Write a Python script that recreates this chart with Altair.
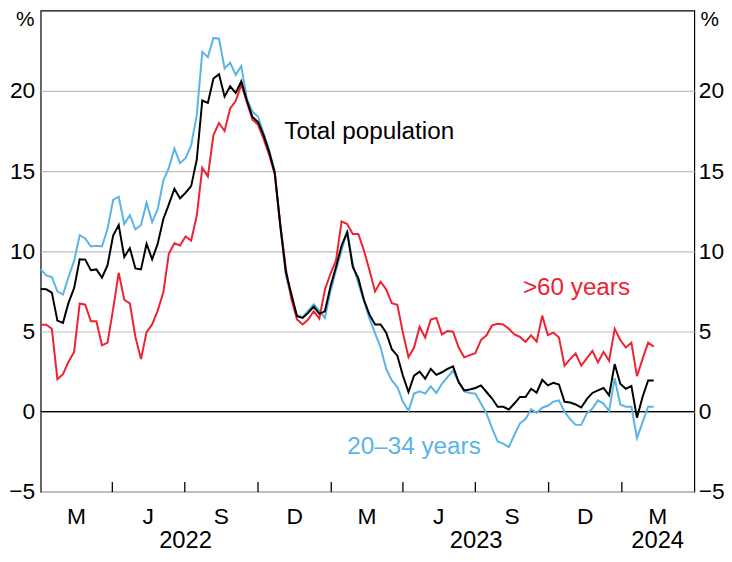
import altair as alt
import pandas as pd

# Weekly observations, first week starting 1 Jan 2022
start_date = "2022-01-01"

total = [7.65, 7.63, 7.43, 5.68, 5.54, 6.8, 7.7, 9.5, 9.48, 8.82,
         8.87, 8.35, 9.13, 10.98, 11.64, 9.64, 10.2, 8.93, 8.87, 10.47,
         9.5, 10.47, 12.0, 12.93, 13.9, 13.3, 13.65, 14.06, 15.7, 19.4,
         19.25, 20.77, 21.04, 19.64, 20.28, 19.87, 20.6, 19.4, 18.37, 18.06,
         17.24, 16.2, 14.9, 11.6, 8.7, 7.3, 5.95, 5.85, 6.16, 6.56,
         6.1, 6.26, 7.8, 9.03, 10.36, 11.18, 9.03, 8.31, 6.98, 6.05,
         5.44, 5.44, 4.93, 3.9, 3.49, 2.25, 1.23, 2.25, 2.5, 2.05,
         2.67, 2.3, 2.46, 2.67, 2.83, 1.85, 1.33, 1.39, 1.48, 1.64,
         1.23, 0.82, 0.31, 0.31, 0.14, 0.51, 0.92, 0.92, 1.43, 1.19,
         1.99, 1.64, 1.8, 1.7, 0.62, 0.57, 0.45, 0.26, 0.78, 1.17,
         1.33, 1.48, 1.02, 2.97, 1.74, 1.43, 1.6, -0.37, 0.92, 1.95,
         1.95]

over60 = [5.42, 5.42, 5.17, 2.03, 2.34, 3.12, 3.73, 6.75, 6.67, 5.64,
          5.64, 4.14, 4.31, 6.4, 8.66, 6.98, 6.75, 4.66, 3.28, 4.96,
          5.44, 6.3, 7.43, 9.85, 10.5, 10.36, 10.92, 10.67, 12.2, 15.2,
          14.67, 17.24, 18.0, 17.5, 18.9, 19.37, 20.4, 19.3, 18.2, 17.9,
          17.0, 16.0, 14.8, 11.7, 8.9, 7.0, 5.75, 5.44, 5.75, 6.26,
          5.8, 7.6, 8.6, 9.44, 11.86, 11.7, 11.08, 11.08, 10.06, 8.82,
          7.5, 8.1, 7.63, 6.77, 6.67, 4.93, 3.39, 4.0, 5.3, 4.62,
          5.74, 5.85, 4.82, 5.03, 4.99, 4.0, 3.39, 3.53, 3.65, 4.47,
          4.76, 5.38, 5.48, 5.44, 5.17, 4.82, 4.66, 4.35, 4.76, 4.37,
          5.99, 4.78, 4.93, 4.62, 2.87, 3.28, 3.63, 2.87, 3.32, 3.79,
          3.08, 3.73, 3.18, 5.17, 4.47, 4.0, 4.31, 2.22, 3.28, 4.31,
          4.06]

young = [8.87, 8.5, 8.4, 7.5, 7.3, 8.4, 9.4, 11.0, 10.8, 10.3,
         10.35, 10.3, 11.4, 13.2, 13.4, 11.7, 12.25, 11.37, 11.64, 13.03,
         11.82, 12.62, 14.4, 15.2, 16.4, 15.5, 15.8, 16.6, 18.47, 22.43,
         22.1, 23.3, 23.25, 21.4, 21.75, 21.0, 21.55, 19.5, 18.7, 18.4,
         17.35, 16.3, 15.0, 11.5, 8.5, 7.1, 6.0, 5.9, 6.3, 6.7,
         6.3, 5.85, 7.5, 8.82, 10.06, 11.3, 9.2, 8.0, 6.9, 5.8,
         4.9, 4.0, 2.67, 1.95, 1.54, 0.62, 0.06, 1.13, 1.27, 1.13,
         1.58, 1.17, 1.74, 2.15, 2.56, 1.85, 1.27, 1.17, 1.13, 0.51,
         -0.1, -1.03, -1.85, -1.99, -2.2, -1.44, -0.72, -0.46, 0.14, -0.06,
         0.25, 0.37, 0.62, 0.71, 0.0, -0.46, -0.82, -0.82, -0.1, 0.2,
         0.71, 0.51, 0.04, 2.09, 0.45, 0.31, 0.31, -1.64, -0.66, 0.31,
         0.31]

series_names = ["20–34 years", ">60 years", "Total population"]
series_colors = ["#5AB4E5", "#EE2233", "#000000"]

# Quarter boundaries (tick marks), mid-quarter month labels, years
quarter_ticks = ["2022-04-01", "2022-07-01", "2022-10-01", "2023-01-01",
                 "2023-04-01", "2023-07-01", "2023-10-01", "2024-01-01"]
month_pos = ["2022-02-15", "2022-05-16", "2022-08-16", "2022-11-16",
             "2023-02-15", "2023-05-16", "2023-08-16", "2023-11-16",
             "2024-02-15"]
month_text = ["M", "J", "S", "D", "M", "J", "S", "D", "M"]
year_pos = ["2022-07-02", "2023-07-02", "2024-02-15"]
year_text = ["2022", "2023", "2024"]

# Series label annotations
label_dates = ["2023-04-15", "2023-11-05", "2022-11-03"]
label_values = [-2.2, 7.7, 17.45]

FONT = "Liberation Sans"
W, H = 660, 486

dates = pd.date_range(start_date, periods=len(total), freq="7D")
df = pd.DataFrame({"date": dates,
                   "20–34 years": young,
                   ">60 years": over60,
                   "Total population": total})
long = df.melt("date", var_name="series", value_name="value")
long["order"] = long["series"].map({n: i for i, n in enumerate(series_names)})

xscale = alt.Scale(domain=[alt.DateTime(year=2022, month=1, date=1),
                           alt.DateTime(year=2024, month=4, date=1)])
yscale = alt.Scale(domain=[-5, 25], nice=False, zero=False)
cscale = alt.Scale(domain=series_names, range=series_colors)

lines = alt.Chart(long).mark_line(strokeWidth=2).encode(
    x=alt.X("date:T", scale=xscale, axis=None),
    y=alt.Y("value:Q", scale=yscale,
            axis=alt.Axis(values=[-5, 0, 5, 10, 15, 20], title="%",
                          titleAngle=0, titleX=-16, titleY=9,
                          titleAlign="center", titleBaseline="middle",
                          titleFontWeight="normal", titleFontSize=21,
                          domain=False, ticks=False, tickSize=0,
                          labelPadding=6, grid=True)),
    color=alt.Color("series:N", scale=cscale, legend=None),
    order=alt.Order("order:Q"),
    detail="series:N",
)

zero = alt.Chart(pd.DataFrame({"y": [0]})).mark_rule(
    color="black", strokeWidth=1.3).encode(
    y=alt.Y("y:Q", scale=yscale,
            axis=alt.Axis(orient="right", values=[-5, 0, 5, 10, 15, 20],
                          title="%", titleAngle=0, titleX=15, titleY=9,
                          titleAlign="center", titleBaseline="middle",
                          titleFontWeight="normal", titleFontSize=21,
                          domain=False, ticks=False, tickSize=0,
                          labelPadding=4, grid=False)),
)

ticks = alt.Chart(pd.DataFrame({"d": pd.to_datetime(quarter_ticks)})).mark_rule(
    color="black", strokeWidth=1.3).encode(
    x=alt.X("d:T", scale=xscale, axis=None),
    y=alt.value(H), y2=alt.value(H - 10),
)

months = alt.Chart(pd.DataFrame({"d": pd.to_datetime(month_pos), "t": month_text})).mark_text(
    font=FONT, fontSize=23, baseline="middle", align="center", color="black").encode(
    x=alt.X("d:T", scale=xscale, axis=None),
    y=alt.value(H + 25),
    text="t:N",
)

years = alt.Chart(pd.DataFrame({"d": pd.to_datetime(year_pos), "t": year_text})).mark_text(
    font=FONT, fontSize=24, baseline="middle", align="center", color="black").encode(
    x=alt.X("d:T", scale=xscale, axis=None),
    y=alt.value(H + 50),
    text="t:N",
)

lab_df = pd.DataFrame({"d": pd.to_datetime(label_dates), "v": label_values,
                       "series": series_names,
                       "align": ["center", "center", "left"]})
labels_c = alt.Chart(lab_df[lab_df["align"] == "center"]).mark_text(
    font=FONT, fontSize=24.5, baseline="middle", align="center").encode(
    x=alt.X("d:T", scale=xscale, axis=None),
    y=alt.Y("v:Q", scale=yscale, axis=None),
    text="series:N",
    color=alt.Color("series:N", scale=cscale, legend=None),
)
labels_l = alt.Chart(lab_df[lab_df["align"] == "left"]).mark_text(
    font=FONT, fontSize=24.5, baseline="middle", align="left").encode(
    x=alt.X("d:T", scale=xscale, axis=None),
    y=alt.Y("v:Q", scale=yscale, axis=None),
    text="series:N",
    color=alt.Color("series:N", scale=cscale, legend=None),
)

chart = alt.layer(zero, lines, ticks, months, years, labels_c, labels_l).resolve_axis(
    y="independent"
).properties(
    width=W, height=H,
    autosize=alt.AutoSizeParams(type="none"),
    padding={"left": 33, "top": 0, "right": 30, "bottom": 60},
).configure_view(
    stroke="black", strokeWidth=1.2
).configure_axis(
    labelFont=FONT, labelFontSize=23, labelColor="black",
    titleFont=FONT, titleColor="black",
    gridColor="#bdbdbd", gridWidth=1.2,
)

chart.save("out.html", embed_options={"renderer": "svg", "actions": False})
